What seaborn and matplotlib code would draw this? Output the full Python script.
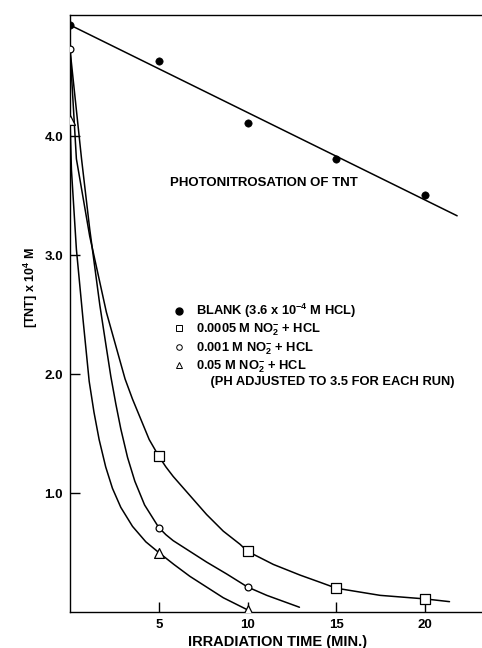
import numpy as np
import seaborn as sns
import matplotlib.pyplot as plt
from matplotlib.lines import Line2D

blank_t = [0, 5, 10, 15, 20]
blank_c = [4.94, 4.63, 4.11, 3.81, 3.51]
sq_t = [5, 10, 15, 20]
sq_c = [1.31, 0.51, 0.20, 0.11]
ci_t = [0, 5, 10]
ci_c = [4.73, 0.71, 0.21]
tr_t = [0, 5, 10]
tr_c = [4.14, 0.50, 0.02]

# hand drawn decay curves
sq_curve_t = [0, 0.36, 1.11, 2.05, 3.10, 3.52, 3.99, 4.46, 5.0, 5.40, 5.81, 6.75, 7.69,
              8.63, 9.57, 10.0, 11.45, 12.96, 14.08, 15.0, 17.46, 20.0, 21.37]
sq_curve_c = [4.73, 3.81, 3.16, 2.52, 1.96, 1.79, 1.62, 1.45, 1.31, 1.22, 1.14, 0.98, 0.82,
              0.68, 0.57, 0.51, 0.40, 0.31, 0.25, 0.20, 0.14, 0.11, 0.087]
ci_curve_t = [0, 0.65, 1.11, 1.68, 2.05, 2.30, 2.58, 2.86, 3.24, 3.65, 4.2, 5.0, 5.40,
              5.81, 6.75, 7.69, 8.82, 10.0, 11.08, 12.0, 12.92]
ci_curve_c = [4.73, 3.81, 3.22, 2.58, 2.22, 1.98, 1.75, 1.54, 1.30, 1.10, 0.90, 0.71, 0.65,
              0.60, 0.51, 0.42, 0.32, 0.21, 0.14, 0.09, 0.04]
tr_curve_t = [0, 0.08, 0.36, 0.74, 1.08, 1.35, 1.64, 2.01, 2.39, 2.86, 3.52, 4.27, 5.0,
              5.85, 6.75, 7.69, 8.63, 9.97]
tr_curve_c = [4.14, 3.72, 3.05, 2.45, 1.94, 1.68, 1.45, 1.22, 1.04, 0.88, 0.72, 0.59, 0.50,
              0.40, 0.30, 0.21, 0.12, 0.02]

x_ticks = [5, 10, 15, 20]
y_ticks = [1.0, 2.0, 3.0, 4.0]

sns.set_style("ticks")
plt.rcParams['font.family'] = ['Liberation Sans', 'DejaVu Sans']
plt.rcParams['font.weight'] = 'bold'
plt.rcParams['text.color'] = 'black'
plt.rcParams['axes.labelcolor'] = 'black'
plt.rcParams['xtick.color'] = 'black'
plt.rcParams['ytick.color'] = 'black'
plt.rcParams['mathtext.fontset'] = 'custom'
plt.rcParams['mathtext.rm'] = 'Liberation Sans:bold'
plt.rcParams['mathtext.bf'] = 'Liberation Sans:bold'
plt.rcParams['mathtext.default'] = 'bf'

fig = plt.figure(figsize=(4.82, 6.48), dpi=100)
ax = fig.add_axes([70 / 482, 36 / 648, 412 / 482, 597 / 648])

lw = 1.1
# blank: straight least squares line
slope, icpt = np.polyfit(blank_t, blank_c, 1)
line_x = np.array([0, 21.8])
sns.lineplot(x=line_x, y=icpt + slope * line_x, color='black', lw=lw, ax=ax)
sns.lineplot(x=sq_curve_t, y=sq_curve_c, color='black', lw=lw, ax=ax)
sns.lineplot(x=ci_curve_t, y=ci_curve_c, color='black', lw=lw, ax=ax)
sns.lineplot(x=tr_curve_t, y=tr_curve_c, color='black', lw=lw, ax=ax)

sns.scatterplot(x=blank_t, y=blank_c, marker='o', color='black', s=28, edgecolor='black', ax=ax, zorder=5)
sns.scatterplot(x=sq_t, y=sq_c, marker='s', color='white', s=45, edgecolor='black', linewidth=0.9, ax=ax, zorder=5)
sns.scatterplot(x=ci_t, y=ci_c, marker='o', color='white', s=24, edgecolor='black', linewidth=0.9, ax=ax, zorder=5)
sns.scatterplot(x=tr_t, y=tr_c, marker='^', color='white', s=50, edgecolor='black', linewidth=0.9, ax=ax, zorder=5)

ax.set_xlim(0, 23.2)
ax.set_ylim(0, 5.02)
ax.set_xticks(x_ticks)
ax.set_yticks(y_ticks)
ax.set_xticklabels([str(t) for t in x_ticks])
ax.set_yticklabels([f'{t:.1f}' for t in y_ticks])
ax.tick_params(direction='in', length=7, width=1, labelsize=9.5, pad=5)
for s in ['left', 'bottom', 'top']:
    ax.spines[s].set_color('black')
    ax.spines[s].set_linewidth(1)
ax.spines['right'].set_visible(False)

ax.set_xlabel('IRRADIATION TIME (MIN.)', fontsize=10.5, fontweight='bold')
ax.set_ylabel('[TNT] x 10$^4$ M', fontsize=9, fontweight='bold')
ax.xaxis.set_label_coords(0.505, -0.039)
ax.yaxis.set_label_coords(-0.072, 0.544)

ax.text(5.64, 3.61, 'PHOTONITROSATION OF TNT', fontsize=9.5, fontweight='bold', va='center')

handles = [
    Line2D([], [], ls='none', marker='o', mfc='black', mec='black', ms=5),
    Line2D([], [], ls='none', marker='s', mfc='white', mec='black', ms=5, mew=0.7),
    Line2D([], [], ls='none', marker='o', mfc='white', mec='black', ms=4, mew=0.7),
    Line2D([], [], ls='none', marker='^', mfc='white', mec='black', ms=5, mew=0.7),
    Line2D([], [], ls='none'),
]
labels = [
    'BLANK (3.6 x 10$^{-4}$ M HCL)',
    '0.0005 M NO$_2^{-}$ + HCL',
    '0.001 M NO$_2^{-}$ + HCL',
    '0.05 M NO$_2^{-}$ + HCL',
    '    (PH ADJUSTED TO 3.5 FOR EACH RUN)',
]
ax.legend(handles, labels, loc='upper left', bbox_to_anchor=(5.4, 2.66), bbox_transform=ax.transData,
          frameon=False, fontsize=9.3, handlelength=1, handletextpad=0.8, labelspacing=0.12, borderpad=0)

fig.savefig('out.png', dpi=100, facecolor='white')
